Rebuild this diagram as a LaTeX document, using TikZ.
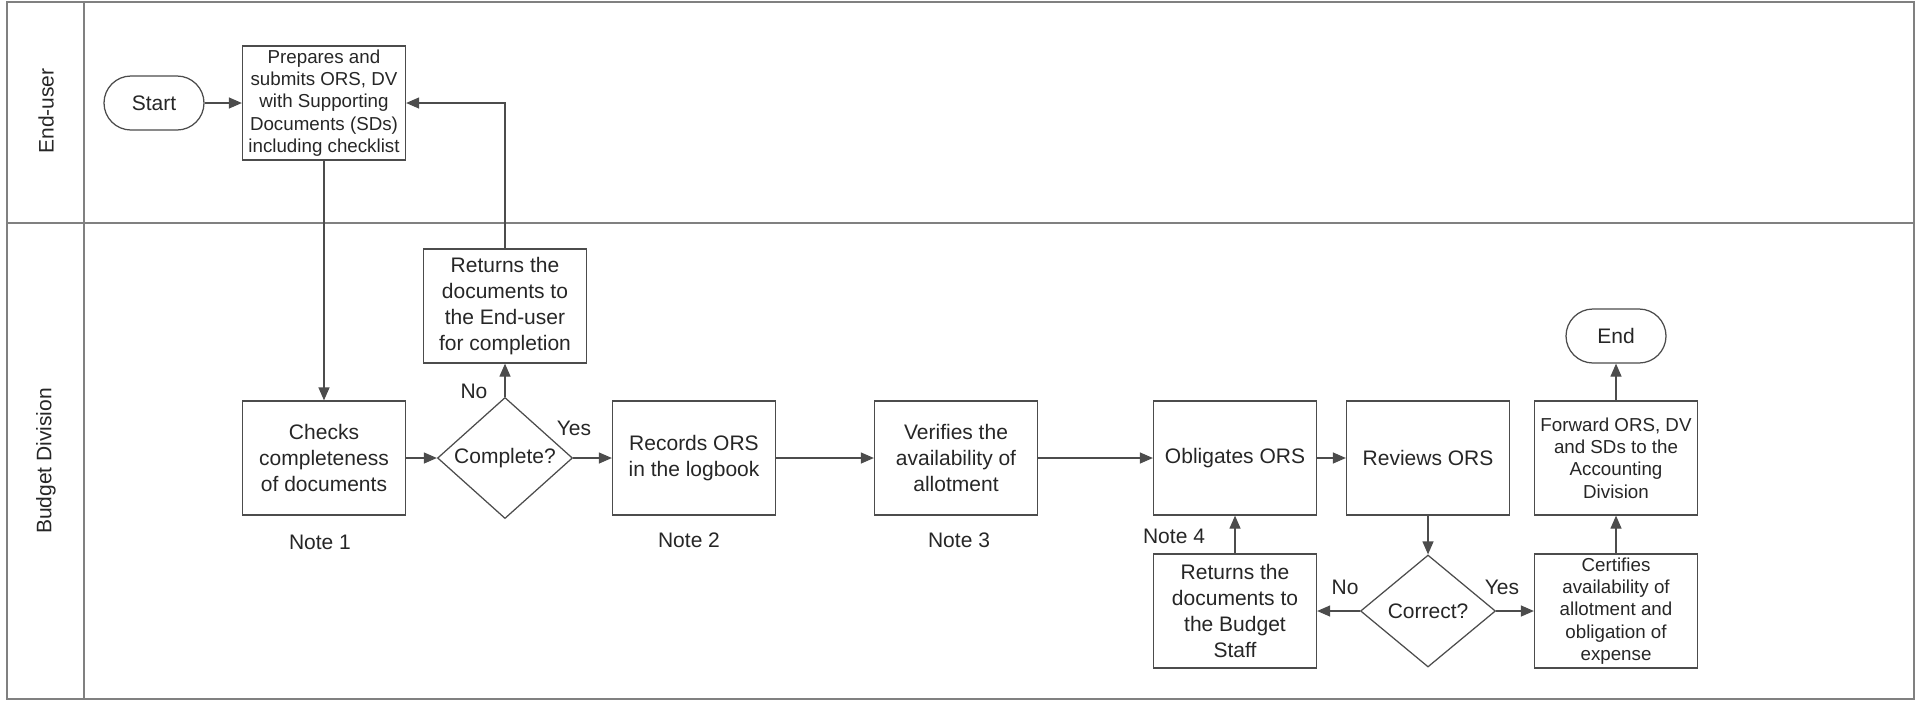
\documentclass[tikz,border=0pt]{standalone}
\usepackage{fontspec}
\setmainfont{Liberation Sans}
\usetikzlibrary{arrows.meta,shapes.geometric}

\begin{document}
\begin{tikzpicture}[x=0.4pt, y=-0.4pt, line width=0.5pt,
  >={Triangle[length=5.2pt, width=4.4pt]},
  txt/.style={font=\fontsize{8.4}{10.3}\selectfont, text=black!85},
  txtsm/.style={font=\fontsize{7.5}{8.9}\selectfont, text=black!85},
  lane/.style={draw=black!50, line width=0.6pt},
  proc/.style={txt, draw=black!70, align=center, minimum width=65.2pt, minimum height=45.6pt, inner sep=1pt},
  procsm/.style={proc, txtsm},
  term/.style={txt, draw=black!70, rounded corners=10.8pt, minimum width=40pt, minimum height=21.6pt},
  decide/.style={txt, diamond, draw=black!70, minimum width=54pt, minimum height=44.8pt, inner sep=0pt},
  lbl/.style={txt, inner sep=1pt},
  flow/.style={->, draw=black!70}]
  \useasboundingbox (0,0) rectangle (1917,701);
  % swimlanes
  \draw[lane] (7,2) rectangle (1914,699);
  \draw[lane] (84,2) -- (84,699);
  \draw[lane] (7,223) -- (1914,223);
  \node[txt, rotate=90] (laneuser) at (46,111) {End-user};
  \node[txt, rotate=90] (lanebudget) at (46,461) {Budget Division};
  % end-user lane
  \node[term] (start) at (154,103) {Start};
  \node[procsm] (prep) at (324,103) {Prepares and\\submits ORS, DV\\with Supporting\\Documents (SDs)\\including checklist};
  % budget division, main row
  \node[proc] (check) at (324,458) {Checks\\completeness\\of documents};
  \node[decide] (complete) at (505,458) {Complete?};
  \node[proc] (retuser) at (505,306) {Returns the\\documents to\\the End-user\\for completion};
  \node[proc] (record) at (694,458) {Records ORS\\in the logbook};
  \node[proc] (verify) at (956,458) {Verifies the\\availability of\\allotment};
  \node[proc] (oblig) at (1235,458) {Obligates ORS};
  \node[proc] (review) at (1428,458) {Reviews ORS};
  \node[procsm] (forward) at (1616,458) {Forward ORS, DV\\and SDs to the\\Accounting\\Division};
  \node[term] (end) at (1616,336) {End};
  % budget division, lower row
  \node[proc] (retstaff) at (1235,611) {Returns the\\documents to\\the Budget\\Staff};
  \node[decide] (correct) at (1428,611) {Correct?};
  \node[procsm] (certify) at (1616,611) {Certifies\\availability of\\allotment and\\obligation of\\expense};
  % notes and branch labels
  \node[lbl] (note1) at (320,542) {Note 1};
  \node[lbl] (note2) at (689,540) {Note 2};
  \node[lbl] (note3) at (959,540) {Note 3};
  \node[lbl] (note4) at (1174,536) {Note 4};
  \node[lbl] (nouser) at (474,391) {No};
  \node[lbl] (yesrec) at (574,428) {Yes};
  \node[lbl] (nostaff) at (1345,587) {No};
  \node[lbl] (yescert) at (1502,587) {Yes};
  % connectors
  \draw[flow] (start) -- (prep);
  \draw[flow] (prep) -- (check);
  \draw[flow] (check) -- (complete);
  \draw[flow] (complete) -- (retuser);
  \draw[flow] (retuser.north) |- (prep.east);
  \draw[flow] (complete) -- (record);
  \draw[flow] (record) -- (verify);
  \draw[flow] (verify) -- (oblig);
  \draw[flow] (oblig) -- (review);
  \draw[flow] (review) -- (correct);
  \draw[flow] (correct) -- (retstaff);
  \draw[flow] (retstaff) -- (oblig);
  \draw[flow] (correct) -- (certify);
  \draw[flow] (certify) -- (forward);
  \draw[flow] (forward) -- (end);
\end{tikzpicture}
\end{document}
